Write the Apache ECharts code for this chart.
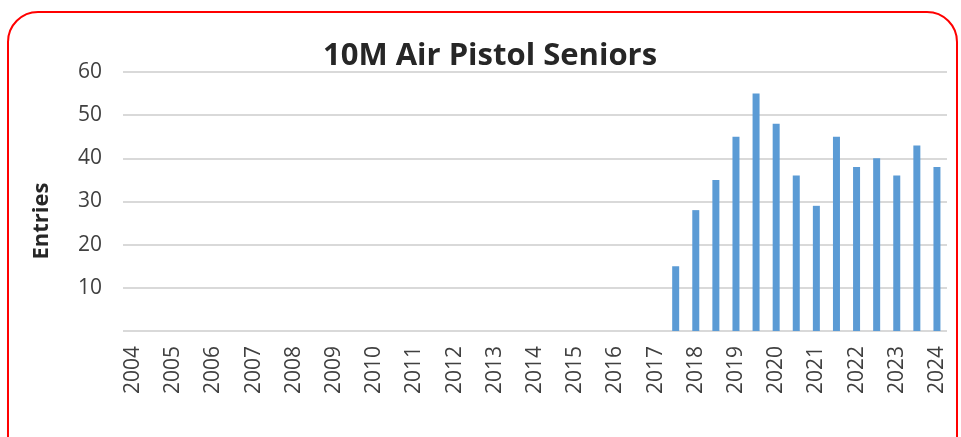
<!DOCTYPE html>
<html>
<head>
<meta charset="utf-8">
<script src="https://cdn.jsdelivr.net/npm/echarts@6/dist/echarts.min.js"></script>
<style>
html, body { margin: 0; padding: 0; background: #fff; }
#chart { width: 961px; height: 437px; }
</style>
</head>
<body>
<div id="chart"></div>
<script>
// half-year slots, only whole years get a label
var categories = ['2004', '', '2005', '', '2006', '', '2007', '', '2008', '', '2009', '',
	'2010', '', '2011', '', '2012', '', '2013', '', '2014', '', '2015', '', '2016', '',
	'2017', '', '2018', '', '2019', '', '2020', '', '2021', '', '2022', '', '2023', '', '2024'];

// entries per slot (empty before late 2017)
var entries = [null, null, null, null, null, null, null, null, null, null, null, null,
	null, null, null, null, null, null, null, null, null, null, null, null, null, null,
	null, 15, 28, 35, 45, 55, 48, 36, 29, 45, 38, 40, 36, 43, 38];

var yTicks = [0, 10, 20, 30, 40, 50, 60];

var font = '"Open Sans", "Liberation Sans", sans-serif';
var mychart = echarts.init(document.getElementById('chart'));

var option = {
	backgroundColor: '#fff',
	animation: false,
	title: {
		text: '10M Air Pistol Seniors',
		left: 485,
		top: 36,
		textAlign: 'center',
		textStyle: { fontFamily: font, fontSize: 31, fontWeight: 'bold', color: '#262626' }
	},
	graphic: [{
		type: 'rect',
		shape: { x: 8, y: 12, width: 949, height: 470, r: 30 },
		style: { fill: 'none', stroke: '#ff0000', lineWidth: 2 },
		silent: true
	}, {
		// y axis title, sits a bit lower than the plot centre
		type: 'text',
		x: 42,
		y: 221,
		rotation: Math.PI / 2,
		style: {
			text: 'Entries',
			fontFamily: font,
			fontSize: 22,
			fontWeight: 'bold',
			fill: '#262626',
			align: 'center',
			verticalAlign: 'middle'
		},
		silent: true
	}],
	grid: { left: 123, right: 14, top: 72, bottom: 106 },
	xAxis: {
		type: 'category',
		data: categories,
		axisLine: { show: false },
		axisTick: { show: false },
		axisLabel: {
			interval: 1,
			rotate: 90,
			fontFamily: font,
			fontSize: 21,
			color: '#404040',
			margin: 15
		}
	},
	yAxis: {
		type: 'value',
		min: yTicks[0],
		max: yTicks[yTicks.length - 1],
		interval: 10,
		axisLine: { show: false },
		axisTick: { show: false },
		axisLabel: {
			fontFamily: font,
			fontSize: 21,
			color: '#404040',
			margin: 21,
			formatter: function(v) { return v === 0 ? '' : v; }
		},
		splitLine: { lineStyle: { color: '#d9d9d9', width: 2 } }
	},
	series: [{
		type: 'bar',
		data: entries,
		barWidth: 7,
		itemStyle: { color: '#5b9bd5' }
	}]
};
mychart.setOption(option);
</script>
</body>
</html>
